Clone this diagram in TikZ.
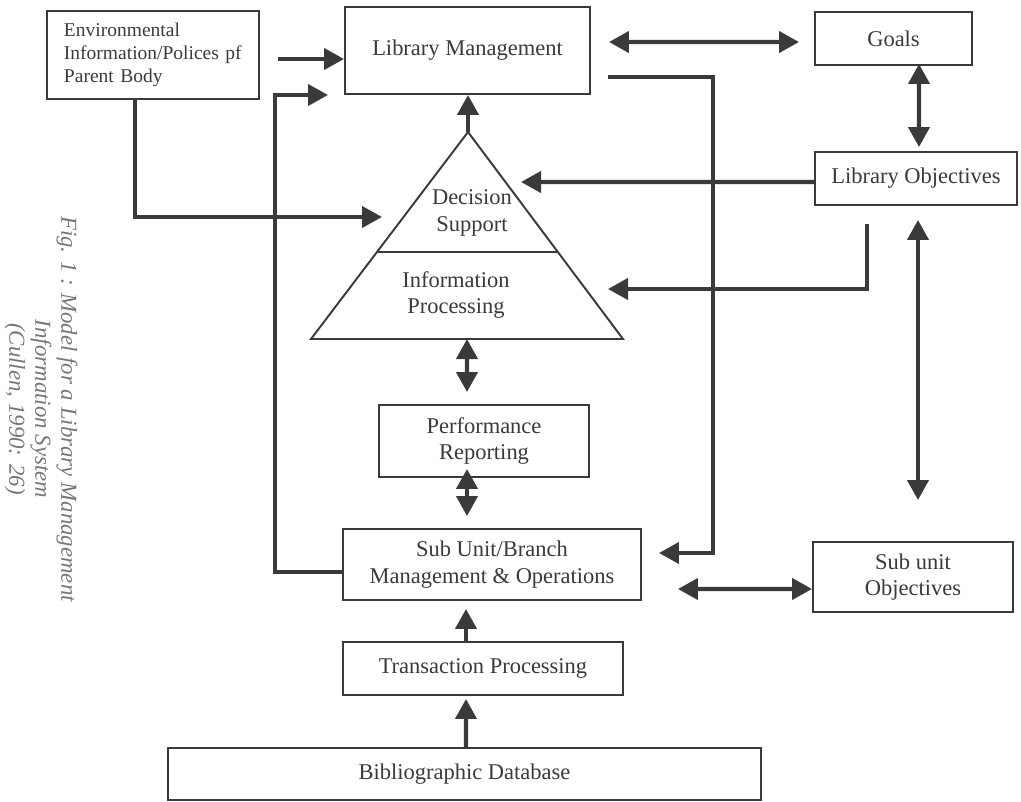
\documentclass[tikz,border=0pt]{standalone}
\usepackage{fontspec}
\setmainfont{Liberation Serif}
\usetikzlibrary{arrows.meta,calc}
\definecolor{ink}{HTML}{3A3A3A}
\definecolor{capgray}{HTML}{767676}
\newcommand{\boxfs}{\fontsize{12.8}{15.1}\selectfont}
\newcommand{\envfs}{\fontsize{11.1}{13.1}\selectfont}
\newcommand{\capfs}{\fontsize{13}{14.8}\selectfont\itshape}

\begin{document}
\begin{tikzpicture}[x=0.2mm, y=-0.2mm,
    box/.style={draw=ink, line width=1.1pt, inner sep=0pt, align=center, font=\boxfs, text=ink},
    lbl/.style={align=center, font=\boxfs, text=ink, inner sep=0pt},
    arr/.style={draw=ink, line width=2.3pt, -{Triangle[length=4mm,width=4.2mm]}},
    dbl/.style={draw=ink, line width=2.3pt, {Triangle[length=4mm,width=4.2mm]}-{Triangle[length=4mm,width=4.2mm]}}]
    \useasboundingbox (0,0) rectangle (1021,802);

    \node[box, minimum width=42.4mm, minimum height=17.6mm, text width=35.6mm, inner xsep=3.4mm, align=left, font=\envfs] (env) at (153,55) {Environmental\\Information/Polices pf\\Parent Body};
    \node[box, minimum width=49mm, minimum height=17.4mm] (lm) at (467.5,50.5) {Library Management};
    \node[box, minimum width=31.4mm, minimum height=10.6mm] (goals) at (893.5,38.5) {Goals};
    \node[box, minimum width=40.4mm, minimum height=10.6mm] (libobj) at (916,178.5) {Library Objectives};
    \node[box, minimum width=42mm, minimum height=14.4mm] (perf) at (484,441) {Performance\\Reporting};
    \node[box, minimum width=59.6mm, minimum height=14.2mm] (sub) at (492,564.5) {Sub Unit/Branch\\Management \& Operations};
    \node[box, minimum width=40mm, minimum height=14mm] (subobj) at (913,577) {Sub unit\\Objectives};
    \node[box, minimum width=56mm, minimum height=10.6mm] (trans) at (483,668.5) {Transaction Processing};
    \node[box, minimum width=118.6mm, minimum height=10.4mm] (biblio) at (464.5,774) {Bibliographic Database};

    \coordinate (apex) at (468,132);
    \coordinate (bl) at (311,339);
    \coordinate (br) at (623,339);
    \coordinate (base) at ($(bl)!0.5!(br)$);
    \draw[ink, line width=1.1pt] (apex) -- (bl) -- (br) -- cycle;
    \draw[ink, line width=1.1pt] ($(apex)!0.58!(bl)$) -- ($(apex)!0.58!(br)$);
    \node[lbl] (ds) at (472,213) {Decision\\Support};
    \node[lbl] (ip) at (456,295) {Information\\Processing};

    \node[rotate=-90, align=center, font=\capfs, text=capgray] (caption) at (41,409) {Fig. 1 : Model for a Library Management\\Information System\\(Cullen, 1990: 26)};

    \coordinate (envin) at (382,217);
    \coordinate (dsin) at (521,182);
    \coordinate (ipin) at (608,289);
    \coordinate (lmin) at (328,95);
    \coordinate (lbend) at (275,95);
    \coordinate (rbend) at (713,553);

    \draw[arr] ([shift={(18,4)}]env.east) coordinate (e1) -- (e1 -| lm.west);
    \draw[arr] ([shift={(-18,0)}]env.south) |- (envin);
    \draw[arr] ([shift={(0,7.5)}]sub.west) -| (lbend) -- (lmin);
    \draw[arr] ([shift={(17,26.5)}]lm.east) -| (rbend) -- ([shift={(17,-11.5)}]sub.east);
    \draw[dbl] ([shift={(18,-8.5)}]lm.east) -- ([shift={(-15,3.5)}]goals.west);
    \draw[dbl] ([shift={(25.5,-2)}]goals.south) -- ([shift={(3,-4)}]libobj.north);
    \draw[arr] ([shift={(0,3.5)}]libobj.west) -- (dsin);
    \draw[arr] ([shift={(-49,18)}]libobj.south) |- (ipin);
    \draw[dbl] ([shift={(2,14)}]libobj.south) -- ([shift={(5,-41)}]subobj.north);
    \draw[dbl] ([shift={(36,24.5)}]sub.east) -- ([shift={(0,12)}]subobj.west);
    \draw[dbl] (base) -- ([shift={(-17,-12)}]perf.north);
    \draw[dbl] ([shift={(-17,-9)}]perf.south) -- ([shift={(-25,-12)}]sub.north);
    \draw[arr] ([shift={(-17,0)}]trans.north) -- ([shift={(-26,8)}]sub.south);
    \draw[arr] ([shift={(1.5,0)}]biblio.north) -- ([shift={(-17,3)}]trans.south);
    \draw[arr] (apex) -- (apex |- lm.south);
\end{tikzpicture}
\end{document}
